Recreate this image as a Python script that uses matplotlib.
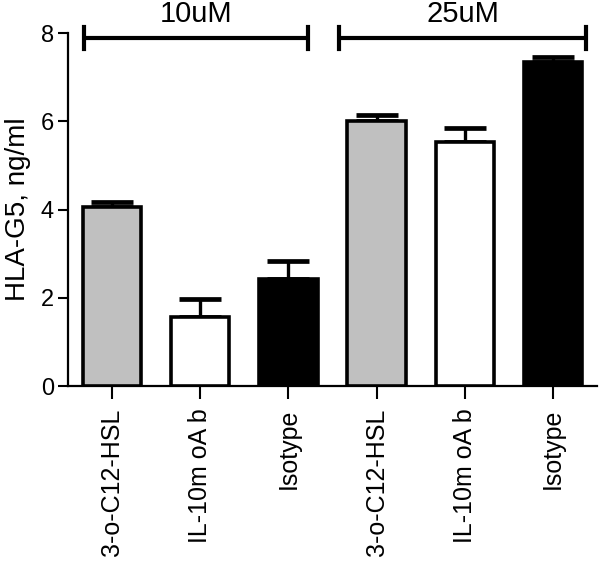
import matplotlib
matplotlib.use("Agg")
import matplotlib.pyplot as plt

categories = ["3-o-C12-HSL", "IL-10m oA b", "Isotype", "3-o-C12-HSL", "IL-10m oA b", "Isotype"]
values = [4.06, 1.57, 2.43, 6.00, 5.54, 7.35]
err_upper = [0.10, 0.40, 0.41, 0.15, 0.30, 0.10]
colors = ["#c0c0c0", "white", "black", "#c0c0c0", "white", "black"]
groups = ["10uM", "25uM"]
group_spans = [(-0.32, 2.22), (2.57, 5.38)]

plt.rcParams['font.family'] = ['Liberation Sans', 'DejaVu Sans']

fig = plt.figure(figsize=(6.0, 5.7), dpi=100)
ax = fig.add_axes([0.1133, 0.3228, 0.8817, 0.6192])

x = list(range(len(values)))
ax.bar(x, values, width=0.66, color=colors, edgecolor="black", linewidth=2.6, zorder=3)
ax.errorbar(x, values, yerr=[[0] * len(values), err_upper], fmt="none",
            ecolor="black", elinewidth=2.4, capsize=15, capthick=3.4, zorder=2)

ax.set_xlim(-0.5, 5.5)
ax.set_ylim(0, 8)
ax.set_yticks([0, 2, 4, 6, 8])
ax.set_xticks(x)
ax.set_xticklabels(categories, rotation=90, fontsize=18)
ax.tick_params(axis="y", labelsize=17, width=1.5, length=7, pad=3)
ax.tick_params(axis="x", width=1.5, length=9, pad=7)
for s in ["top", "right"]:
    ax.spines[s].set_visible(False)
for s in ["left", "bottom"]:
    ax.spines[s].set_linewidth(1.6)
ax.set_ylabel("HLA-G5, ng/ml", fontsize=20, labelpad=7)

yb = 7.89
for (x0, x1), g in zip(group_spans, groups):
    ax.plot([x0, x1], [yb, yb], color="black", lw=3, clip_on=False, solid_capstyle="butt")
    for xe in (x0, x1):
        ax.plot([xe, xe], [yb - 0.25, yb + 0.25], color="black", lw=3, clip_on=False)
    ax.text((x0 + x1) / 2, yb + 0.22, g, ha="center", va="bottom", fontsize=21)

fig.savefig("out.png", dpi=100)
